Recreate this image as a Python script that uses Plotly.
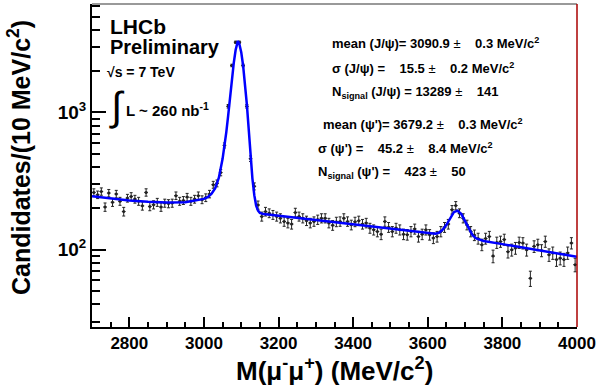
import numpy as np
import plotly.graph_objects as go

# bin centres (10 MeV bins from 2700 to 4000)
mass = np.arange(2705, 4000, 10)

# candidates per bin
counts = [
    262, 252, 266, 205, 259, 222, 255, 226, 190, 238,
    245, 234, 226, 209, 262, 207, 213, 222, 205, 219,
    217, 219, 248, 226, 229, 242, 226, 234, 248, 232,
    240, 255, 298, 305, 365, 576, 1110, 2200, 3250, 3250,
    2200, 1110, 461, 290, 212, 175, 190, 185, 180, 175,
    170, 161, 157, 154, 187, 175, 170, 163, 157, 161,
    166, 170, 170, 157, 151, 160, 161, 170, 161, 152,
    160, 163, 154, 157, 144, 140, 136, 130, 161, 146,
    136, 144, 140, 130, 129, 136, 142, 125, 130, 140,
    129, 122, 125, 136, 146, 154, 196, 210, 185, 170,
    152, 136, 128, 121, 109, 121, 125, 90, 113, 115,
    119, 97, 100, 103, 113, 112, 100, 62, 106, 109,
    99, 115, 92, 95, 85, 87, 85, 95, 112, 78,
]

# fit curve
fit_mass = [2700, 2750, 2800, 2850, 2900, 2950, 2980, 3000, 3010, 3020,
            3030, 3040, 3050, 3055, 3060, 3065, 3070, 3075, 3080, 3085,
            3091, 3095, 3100, 3105, 3110, 3115, 3120, 3125, 3130, 3135,
            3140, 3145, 3150, 3160, 3200, 3300, 3400, 3500, 3600, 3620,
            3630, 3640, 3650, 3660, 3670, 3680, 3690, 3700, 3710, 3720,
            3730, 3740, 3750, 3800, 3900, 4000]
fit_vals = [246, 236, 229, 224, 221, 222, 228, 235, 242, 255,
            280, 335, 460, 560, 720, 950, 1300, 1750, 2300, 2850,
            3320, 3150, 2750, 2200, 1650, 1150, 760, 490, 330, 250,
            210, 193, 186, 182, 177, 164, 153, 143, 133, 131,
            133, 140, 152, 170, 188, 193, 182, 162, 142, 128,
            121, 118, 116, 110, 99, 89]

errors = np.sqrt(counts)

FONT = "Liberation Sans, Arial, Helvetica, sans-serif"

fig = go.Figure()
fig.add_trace(go.Scatter(
    x=mass, y=counts, mode="markers",
    marker=dict(color="#222222", size=3),
    error_y=dict(type="data", array=errors, color="#222222", thickness=1, width=1.5),
    error_x=dict(type="constant", value=5, color="#222222", thickness=1, width=0),
    showlegend=False,
))
fig.add_trace(go.Scatter(
    x=fit_mass, y=fit_vals, mode="lines",
    line=dict(color="#0000ff", width=2.5),
    showlegend=False,
))

minor_y = [30, 40, 50, 60, 70, 80, 90, 200, 300, 400, 500, 600, 700, 800, 900,
           2000, 3000, 4000, 5000, 6000]

fig.update_layout(
    width=598, height=386,
    margin=dict(l=92, r=21, t=4, b=59),
    paper_bgcolor="white", plot_bgcolor="white",
    font=dict(family=FONT, color="black"),
    xaxis=dict(
        range=[2700, 4000], tickvals=[2800, 3000, 3200, 3400, 3600, 3800, 4000],
        ticks="inside", ticklen=10, tickwidth=1.5, tickcolor="black",
        tickfont=dict(size=17, weight="bold"),
        minor=dict(dtick=50, tick0=2700, ticks="inside", ticklen=5, tickcolor="black"),
        showgrid=False, zeroline=False, automargin=False,
        showline=True, linecolor="black", linewidth=2,
    ),
    yaxis=dict(
        type="log", range=[1.438, 3.79],
        tickvals=[100, 1000], ticktext=["10<sup>2</sup>", "10<sup>3</sup>"],
        ticks="inside", ticklen=14, tickwidth=1.5, tickcolor="black",
        tickfont=dict(size=19, weight="bold"),
        minor=dict(tickmode="array", tickvals=minor_y, ticks="inside",
                   ticklen=8, tickcolor="black"),
        showgrid=False, zeroline=False, automargin=False,
        showline=True, linecolor="black", linewidth=2,
    ),
    shapes=[
        dict(type="line", xref="paper", yref="paper", x0=0, x1=1, y0=1, y1=1,
             line=dict(color="#777777", width=1.5)),
        dict(type="line", xref="paper", yref="paper", x0=1, x1=1, y0=0, y1=1,
             line=dict(color="#aa0000", width=1.5)),
    ],
)


def px(xp, yp):
    # page pixels -> paper coords
    return (xp - 92) / (577 - 92), (327 - yp) / (327 - 4)


def text(xp, yp, s, size, xanchor="left", bold=True, angle=0):
    x, y = px(xp, yp)
    fig.add_annotation(x=x, y=y, xref="paper", yref="paper", text=s, showarrow=False,
                       xanchor=xanchor, yanchor="middle", textangle=angle,
                       font=dict(size=size, weight="bold" if bold else "normal"))


sp = "\u00a0"
text(108, 26, "LHCb", 21)
text(108, 47, "Preliminary", 20)
text(105, 72, "\u221as = 7 TeV", 14)
text(107, 106, "\u222b", 40, bold=False)
text(124, 109, "L ~ 260 nb<sup>-1</sup>", 15)

pm = "<span style='font-weight:normal'>\u00b1</span>"
text(330, 43, "mean (J/\u03c8)= 3090.9 " + pm + sp * 4 + "0.3 MeV/c<sup>2</sup>", 13)
text(330, 68, "\u03c3 (J/\u03c8) = " + sp * 2 + " 15.5 " + pm + sp * 3 + " 0.2 MeV/c<sup>2</sup>", 13)
text(330, 92, "N<sub>signal</sub> (J/\u03c8) = 13289 " + pm + sp * 3 + " 141", 13)
text(321, 124, "mean (\u03c8')= 3679.2 " + pm + sp * 4 + "0.3 MeV/c<sup>2</sup>", 13)
text(316, 148, "\u03c3 (\u03c8') = " + sp * 2 + " 45.2 " + pm + sp * 3 + " 8.4 MeV/c<sup>2</sup>", 13)
text(316, 172, "N<sub>signal</sub> (\u03c8') = " + sp * 2 + " 423 " + pm + sp * 3 + " 50", 13)

# axis titles
text(334, 369, "M(\u03bc<sup>-</sup>\u03bc<sup>+</sup>) (MeV/c<sup>2</sup>)", 26, xanchor="center")
text(19, 158, "Candidates/(10 MeV/c<sup>2</sup>)", 25, xanchor="center", angle=-90)

fig.write_html("out.html", config={"displayModeBar": False},
               post_script="document.body.style.margin='0';")
